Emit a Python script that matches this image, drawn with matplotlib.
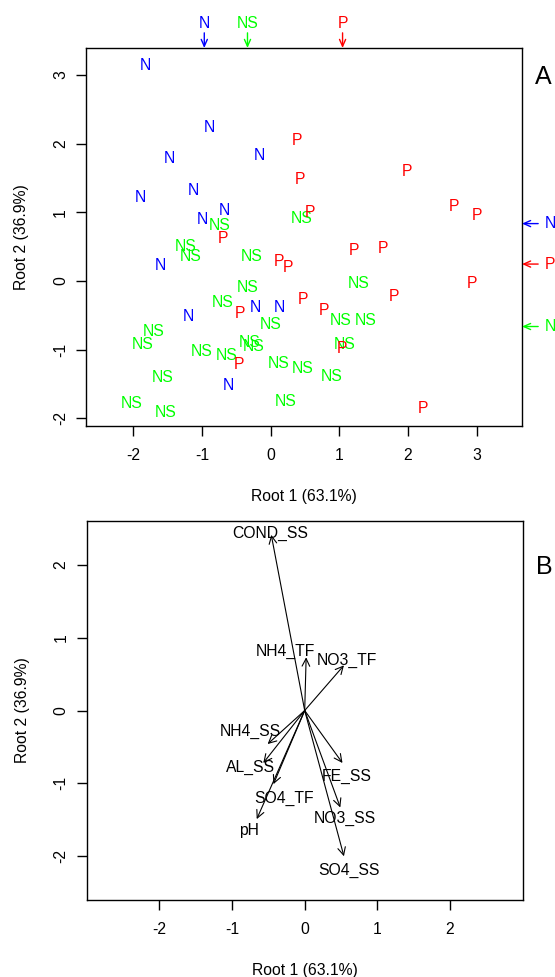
import numpy as np
import matplotlib
matplotlib.use("Agg")
import matplotlib.pyplot as plt
from matplotlib import transforms

plt.rcParams["font.family"] = ["Liberation Sans", "DejaVu Sans"]
plt.rcParams["font.size"] = 11
plt.rcParams["axes.unicode_minus"] = False

# --- discriminant scores (Root 1, Root 2) per site, by group ---
n_x = [-1.82, -0.90, -1.48, -0.17, -1.90, -1.12, -0.67, -0.99, -1.61, -1.20, -0.23, 0.12, -0.61]
n_y = [3.14, 2.23, 1.78, 1.82, 1.21, 1.32, 1.02, 0.90, 0.23, -0.51, -0.39, -0.38, -1.52]

p_x = [0.38, 0.43, -0.69, 0.57, 1.98, 2.67, 3.00, 0.12, 0.25, 1.21, 1.63, 2.93, 0.47,
       1.80, 0.78, 1.04, 2.22, -0.45, -0.46]
p_y = [2.05, 1.48, 0.62, 0.99, 1.59, 1.08, 0.95, 0.28, 0.20, 0.45, 0.47, -0.03, -0.27,
       -0.23, -0.43, -0.99, -1.85, -0.47, -1.22]

ns_x = [-0.75, 0.45, -1.24, -1.16, -0.28, -0.34, -0.70, 0.00, -1.71, -1.86, -1.00, -0.64,
        -0.31, -0.25, -1.57, 0.12, -2.03, -1.53, 0.22, 1.28, 1.02, 1.38, 1.08, 0.47, 0.89]
ns_y = [0.80, 0.91, 0.50, 0.36, 0.36, -0.10, -0.31, -0.64, -0.74, -0.92, -1.03, -1.08,
        -0.90, -0.96, -1.41, -1.20, -1.78, -1.92, -1.75, -0.03, -0.57, -0.57, -0.92, -1.28, -1.39]

groups = ["N", "NS", "P"]
group_colors = {"N": "blue", "NS": "#00ff00", "P": "red"}
scores = {"N": (n_x, n_y), "NS": (ns_x, ns_y), "P": (p_x, p_y)}

# --- variable loadings (structure coefficients) ---
variables = ["COND_SS", "NH4_TF", "NO3_TF", "NH4_SS", "AL_SS", "SO4_TF", "pH",
             "FE_SS", "NO3_SS", "SO4_SS"]
load_x = [-0.46, 0.02, 0.54, -0.51, -0.57, -0.43, -0.66, 0.52, 0.49, 0.54]
load_y = [2.41, 0.73, 0.62, -0.46, -0.72, -1.01, -1.49, -0.72, -1.33, -2.00]
# label positions (nudged so names don't collide)
lab_x = [-0.47, -0.26, 0.58, -0.75, -0.74, -0.28, -0.76, 0.58, 0.55, 0.61]
lab_y = [2.43, 0.81, 0.69, -0.29, -0.78, -1.21, -1.64, -0.91, -1.48, -2.20]

FS = 11.3

fig = plt.figure(figsize=(5.55, 9.77), dpi=100)
ax1 = fig.add_axes([0.155, 0.564, 0.7856, 0.3869])
ax2 = fig.add_axes([0.1562, 0.0788, 0.7856, 0.3879])


def style_axes(ax):
    for s in ax.spines.values():
        s.set_linewidth(1.0)
    ax.tick_params(direction="out", length=7, width=1.0, labelsize=FS)
    ax.tick_params(axis="x", pad=9)
    ax.tick_params(axis="y", pad=6)
    for lab in ax.get_yticklabels():
        lab.set_rotation(90)
        lab.set_va("center")
    ax.set_xlabel("Root 1 (63.1%)", fontsize=FS, labelpad=18.5)
    ax.set_ylabel("Root 2 (36.9%)", fontsize=FS, labelpad=17)


# ---- Panel A: site scores as group letters ----
for g in groups:
    xs, ys = scores[g]
    for x, y in zip(xs, ys):
        ax1.text(x, y, g, color=group_colors[g], ha="center", va="center", fontsize=FS)

ax1.set_xlim(-2.69, 3.66)
ax1.set_ylim(-2.11, 3.39)
ax1.set_xticks([-2, -1, 0, 1, 2, 3])
ax1.set_yticks([-2, -1, 0, 1, 2, 3])
style_axes(ax1)

# group centroids marked on the top and right margins
top_tr = transforms.blended_transform_factory(ax1.transData, ax1.transAxes)
right_tr = transforms.blended_transform_factory(ax1.transAxes, ax1.transData)
head = "->, head_length=0.45, head_width=0.2"
for g in groups:
    xs, ys = scores[g]
    mx, my = np.mean(xs), np.mean(ys)
    c = group_colors[g]
    ax1.annotate("", xy=(mx, 1.0), xycoords=top_tr, xytext=(mx, 1.04), textcoords=top_tr,
                 arrowprops=dict(arrowstyle=head, color=c, lw=1.0, shrinkA=0, shrinkB=0),
                 annotation_clip=False)
    ax1.text(mx, 1.066, g, color=c, transform=top_tr, ha="center", va="center",
             fontsize=FS, clip_on=False)
    ax1.annotate("", xy=(1.0, my), xycoords=right_tr, xytext=(1.037, my), textcoords=right_tr,
                 arrowprops=dict(arrowstyle=head, color=c, lw=1.0, shrinkA=0, shrinkB=0),
                 annotation_clip=False)
    ax1.text(1.053, my, g, color=c, transform=right_tr, ha="left", va="center",
             fontsize=FS, clip_on=False)

ax1.text(1.030, 0.923, "A", transform=ax1.transAxes, fontsize=18, ha="left", va="center")

# ---- Panel B: loading vectors ----
for v, x, y, tx, ty in zip(variables, load_x, load_y, lab_x, lab_y):
    ax2.annotate("", xy=(x, y), xytext=(0, 0),
                 arrowprops=dict(arrowstyle="->, head_length=0.5, head_width=0.25",
                                 color="black", lw=0.8, shrinkA=0, shrinkB=0))
    ax2.text(tx, ty, v, ha="center", va="center", fontsize=FS)

ax2.set_xlim(-3, 3)
ax2.set_ylim(-2.6, 2.6)
ax2.set_xticks([-2, -1, 0, 1, 2])
ax2.set_yticks([-2, -1, 0, 1, 2])
style_axes(ax2)

ax2.text(1.031, 0.879, "B", transform=ax2.transAxes, fontsize=18, ha="left", va="center")

fig.savefig("out.png", dpi=100)
